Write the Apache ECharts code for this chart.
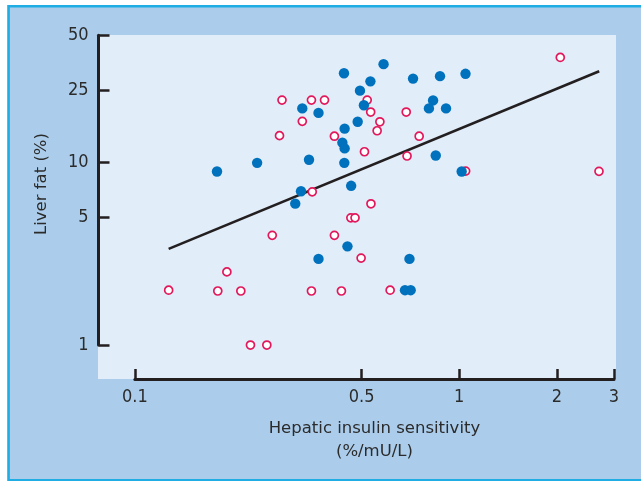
<!DOCTYPE html>
<html><head><meta charset="utf-8">
<script src="https://cdn.jsdelivr.net/npm/echarts@6/dist/echarts.min.js"></script>
<style>html,body{margin:0;padding:0;background:#fff}#c{width:641px;height:481px}</style>
</head><body><div id="c"></div>
<script>
// ---- data ----
const xTicks = [0.1, 0.5, 1, 2, 3];
const yTicks = [1, 5, 10, 25, 50];
const xTitle = 'Hepatic insulin sensitivity\n(%/mU/L)';
const yTitle = 'Liver fat (%)';
// filled blue circles [insulin sensitivity, liver fat]
const filledGroup = [
  [0.441,31.0],[0.584,34.8],[0.532,28.0],[0.494,24.9],[0.720,29.0],[0.872,29.9],[1.045,30.8],
  [0.830,22.0],[0.806,19.9],[0.910,19.9],[0.508,20.7],[0.328,19.9],[0.368,18.8],[0.486,16.8],
  [0.443,15.4],[0.436,12.9],[0.443,12.0],[0.442,10.0],[0.344,10.4],[0.238,10.0],[0.179,8.96],
  [0.846,10.97],[1.017,8.96],[0.464,7.48],[0.325,6.98],[0.312,5.97],[0.452,3.48],[0.368,2.97],
  [0.702,2.97],[0.680,2.0],[0.708,2.0]
];
// open red circles
const openGroup = [
  [2.048,37.9],[0.284,22.1],[0.350,22.1],[0.384,22.1],[0.520,22.1],[0.533,19.0],[0.686,19.0],
  [0.328,16.9],[0.569,16.8],[0.558,15.0],[0.279,14.1],[0.412,14.0],[0.752,14.0],[0.510,11.5],
  [0.690,10.9],[1.046,9.01],[2.696,8.98],[0.352,6.93],[0.534,5.96],[0.463,4.99],[0.477,4.99],
  [0.265,4.00],[0.412,4.00],[0.498,3.00],[0.192,2.52],[0.127,2.0],[0.180,1.98],[0.212,1.98],
  [0.350,1.98],[0.433,1.98],[0.612,2.0],[0.227,1.0],[0.255,1.0]
];
// regression line end points
const fitLine = [[0.127,3.37],[2.70,31.8]];

// ---- chart ----
const ink = '#231f20';
const tickFont = '"DejaVu Sans Condensed", "DejaVu Sans", sans-serif';
const titleFont = '"DejaVu Sans", sans-serif';
const fmt = v => String(+Math.pow(10, v).toPrecision(3));
const xLogTicks = xTicks.map(Math.log10);
const yLogTicks = yTicks.map(Math.log10);

const chart = echarts.init(document.getElementById('c'), null, {renderer: 'canvas'});
chart.setOption({
  animation: false,
  backgroundColor: '#abcdeb',
  grid: [
    {left: 98, right: 25, top: 35, bottom: 102, show: true, backgroundColor: '#e1edf9', borderWidth: 0},
    {left: 98.5, width: 20, top: 35.3, bottom: 136},
    {left: 134.9, right: 27, top: 300, bottom: 102}
  ],
  xAxis: [
    {type: 'log', gridIndex: 0, min: 0.0769, max: 3.042, show: false},
    {type: 'value', gridIndex: 1, min: 0, max: 1, show: false},
    {type: 'value', gridIndex: 2, min: xLogTicks[0], max: xLogTicks[xLogTicks.length - 1], position: 'bottom',
      axisLine: {show: true, lineStyle: {color: ink, width: 3}},
      axisTick: {show: true, inside: true, length: 10, lineStyle: {color: ink, width: 2.5}, customValues: xLogTicks},
      axisLabel: {show: true, customValues: xLogTicks, formatter: fmt, margin: 9, fontSize: 18, color: '#2b2b2b', fontFamily: tickFont},
      splitLine: {show: false},
      name: xTitle, nameLocation: 'middle', nameGap: 38,
      nameTextStyle: {fontSize: 16.5, lineHeight: 23, color: '#2b2b2b', fontFamily: titleFont}
    }
  ],
  yAxis: [
    {type: 'log', gridIndex: 0, min: 0.651, max: 50.3, show: false},
    {type: 'value', gridIndex: 1, min: yLogTicks[0], max: yLogTicks[yLogTicks.length - 1],
      axisLine: {show: true, lineStyle: {color: ink, width: 3}},
      axisTick: {show: true, inside: true, length: 11, lineStyle: {color: ink, width: 2.5}, customValues: yLogTicks},
      axisLabel: {show: true, customValues: yLogTicks, formatter: fmt, margin: 10, fontSize: 18, color: '#2b2b2b', fontFamily: tickFont},
      splitLine: {show: false}
    },
    {type: 'value', gridIndex: 2, show: false}
  ],
  graphic: [
    {type: 'rect', shape: {x: 0, y: 0, width: 641, height: 5}, style: {fill: '#fff'}, z: 100, silent: true},
    {type: 'rect', shape: {x: 0, y: 0, width: 7.2, height: 481}, style: {fill: '#fff'}, z: 100, silent: true},
    {type: 'polyline', shape: {points: [[645, 6.2], [8.6, 6.2], [8.6, 480.2], [645, 480.2]]},
      style: {stroke: '#1fade4', lineWidth: 2.5, fill: null}, z: 101, silent: true},
    {type: 'text', x: 42, y: 184, rotation: Math.PI / 2,
      style: {text: yTitle, fontSize: 16.5, fill: '#2b2b2b', fontFamily: titleFont, align: 'center', verticalAlign: 'middle'},
      z: 100, silent: true}
  ],
  series: [
    {type: 'line', xAxisIndex: 0, yAxisIndex: 0, data: fitLine, showSymbol: false, symbol: 'none',
      lineStyle: {color: ink, width: 2.6}, z: 2, silent: true},
    {type: 'scatter', xAxisIndex: 0, yAxisIndex: 0, data: openGroup, symbol: 'circle', symbolSize: 8,
      itemStyle: {color: '#ffffff', borderColor: '#e2185b', borderWidth: 1.7, opacity: 1}, z: 3},
    {type: 'scatter', xAxisIndex: 0, yAxisIndex: 0, data: filledGroup, symbol: 'circle', symbolSize: 10.4,
      itemStyle: {color: '#0071bc', opacity: 1}, z: 4}
  ]
});
</script>
</body></html>
